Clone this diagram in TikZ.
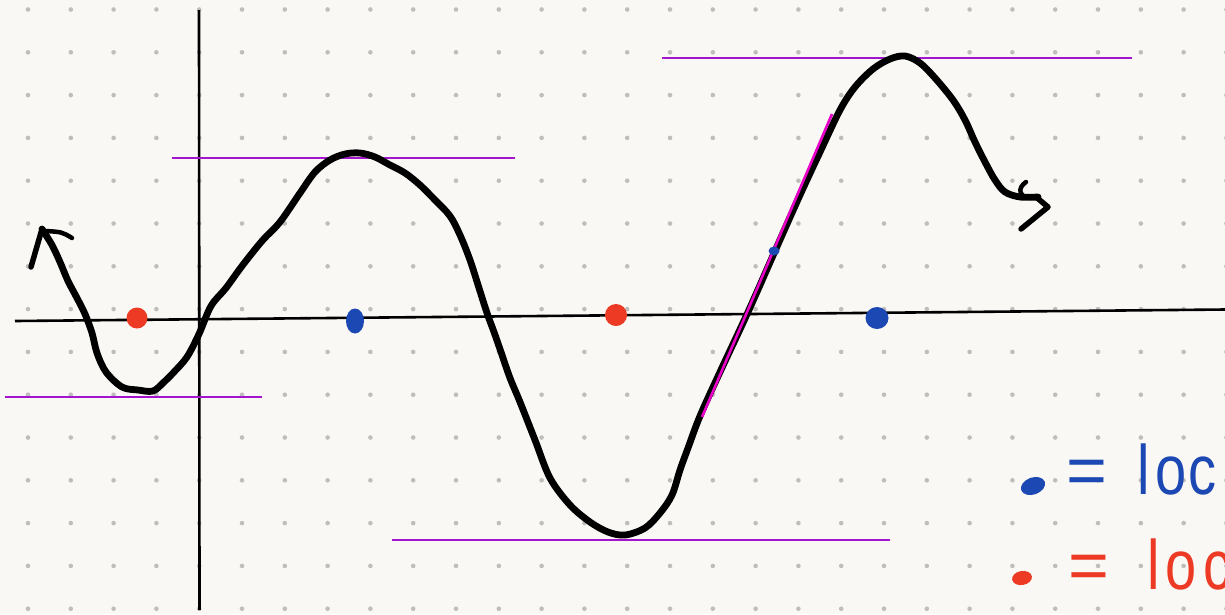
\documentclass[tikz,border=0pt]{standalone}
\usepackage{fontspec}
\setmainfont{Liberation Sans}
\definecolor{paper}{RGB}{250,248,244}
\definecolor{griddot}{RGB}{192,190,186}
\definecolor{hline}{RGB}{164,20,204}
\definecolor{tangent}{RGB}{232,0,200}
\definecolor{maxblue}{RGB}{28,72,180}
\definecolor{minred}{RGB}{236,58,36}
\tikzset{
  axisline/.style={line width=2.6pt, black},
  levelline/.style={line width=2.3pt, hline},
  curveline/.style={line width=6.8pt, black, line cap=round, line join=round},
  maxdot/.style={fill=maxblue, draw=none},
  mindot/.style={fill=minred, draw=none},
  legendtext/.style={font=\fontsize{70}{74}\selectfont, inner sep=0pt, anchor=base west}
}
\begin{document}
\begin{tikzpicture}[x=1pt,y=-1pt]
\useasboundingbox (0,0) rectangle (1225,614);
\fill[paper] (0,0) rectangle (1225,614);
% dot grid
\foreach \i in {0,...,28}{
  \foreach \j in {0,...,14}{
    \fill[griddot] (28+42.8*\i, 9.5+42.8*\j) circle (2.3);
  }
}
% axes
\draw[axisline] (199,10) -- (199.5,610);
\draw[axisline] (15,321) -- (1225,309.5);
% level lines
\draw[levelline] (5,397) -- (262,397);
\draw[levelline] (172,158) -- (515,158);
\draw[levelline] (392,540) -- (890,540);
\draw[levelline] (662,58) -- (1132,58);
% curve
\draw[curveline] plot[smooth, tension=0.55] coordinates {
 (42,229) (52,245) (60,262) (68,281) (77,298) (85,314) (92,333) (97,353)
 (106,372) (122,387) (138,390) (153,391) (164,382) (174,372) (187,357)
 (199,334) (211,306) (226,288) (242,266) (262,241) (280,222) (300,193)
 (315,172) (330,160) (345,154) (360,153) (375,157) (390,165) (405,173)
 (420,185) (435,200) (450,216) (460,235) (470,260) (479,288) (487,313)
 (494,332) (501,352) (510,378) (520,402) (535,440) (550,478) (570,505)
 (590,522) (608,532) (625,535) (645,528) (660,513) (672,495) (680,470)
 (688,448) (700,416) (720,372) (748,312) (775,251) (800,195) (820,152)
 (840,110) (855,87) (873,69) (890,59) (905,56) (920,63) (935,78)
 (953,100) (965,120) (975,142) (985,162) (995,180) (1005,192) (1020,197) (1038,197)
};
% arrowheads
\draw[curveline, line width=5.5pt] (42,229) .. controls (36,248) .. (31,267);
\draw[curveline, line width=4.5pt] (46,231) .. controls (62,232) .. (72,238);
\draw[curveline, line width=4.5pt] (1026,182) .. controls (1017,188) and (1019,197) .. (1030,198);
\draw[curveline, line width=5.5pt] (1036,197) -- (1048,207) -- (1021,229);
% tangent line
\draw[line width=2.6pt, tangent] (702,417) -- (832,114);
\fill[maxblue] (774,251) ellipse (5.5 and 4.5);
% extrema markers
\fill[mindot] (137,318) circle (10.5);
\fill[mindot] (616,315) circle (11);
\fill[maxdot] (355,321) ellipse (9 and 12.5);
\fill[maxdot] (877,318) ellipse (11.5 and 11);
% legend
\begin{scope}
\clip (0,0) rectangle (1225,614);
\fill[maxdot, rotate around={20:(1033,486)}] (1033,486) ellipse (12.5 and 8.5);
\node[legendtext, text=maxblue] (lmax) at (1066,494) {=\hspace{30pt}\scalebox{0.8}[1]{l\hspace{8pt}o\hspace{2pt}c}};
\fill[mindot, rotate around={10:(1022,578)}] (1022,578) ellipse (10 and 7);
\node[legendtext, text=minred] (lmin) at (1068,589) {=\hspace{38pt}\scalebox{0.8}[1]{l\hspace{8pt}o\hspace{8pt}c}};
\end{scope}
\end{tikzpicture}
\end{document}
